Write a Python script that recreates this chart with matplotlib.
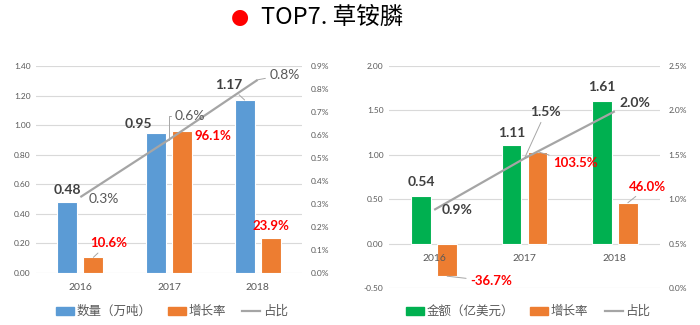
import numpy as np
import matplotlib.pyplot as plt
from matplotlib.patches import Patch
from matplotlib.lines import Line2D

plt.rcParams['font.family'] = ['Lato', 'Noto Sans CJK SC', 'DejaVu Sans']

years = ["2016", "2017", "2018"]

# 数量（万吨）/ 增长率 / 占比
qty = [0.48, 0.95, 1.17]
qty_growth = [0.106, 0.961, 0.239]
qty_share = [0.0033, 0.0058, 0.0084]

# 金额（亿美元）/ 增长率 / 占比
amt = [0.54, 1.11, 1.61]
amt_growth = [-0.367, 1.035, 0.460]
amt_share = [0.0088, 0.0146, 0.0199]

BLUE = "#5b9bd5"
GREEN = "#00b050"
ORANGE = "#ed7d31"
LINE = "#a5a5a5"
DARK = "#404040"
TICK = "#595959"
LEAD = "#a6a6a6"

x = np.arange(len(years))

fig = plt.figure(figsize=(7, 3.25), dpi=100)


def panel(rect, values, growth, share, color, width, off, ylim, yticks, slim, sticks):
    ax = fig.add_axes(rect)
    ax.bar(x - off, values, width, color=color, edgecolor="white", lw=0.8, zorder=2)
    ax.bar(x + off, growth, width, color=ORANGE, edgecolor="white", lw=0.8, zorder=2)
    ax.set_xlim(-0.5, 2.5)
    ax.set_ylim(*ylim)
    ax.set_yticks(yticks)
    ax.yaxis.set_major_formatter(lambda v, p: f"{v:.2f}")
    ax.grid(axis="y", color="#d9d9d9", lw=0.8)
    ax.set_axisbelow(True)
    for s in ax.spines.values():
        s.set_visible(False)
    ax.set_xticks([])
    ax.tick_params(axis="y", length=0, labelsize=6, labelcolor=TICK, pad=4)

    tw = ax.twinx()
    tw.plot(x, share, color=LINE, lw=1.6, solid_capstyle="butt")
    tw.set_ylim(*slim)
    tw.set_yticks(sticks)
    tw.yaxis.set_major_formatter(lambda v, p: f"{v * 100:.1f}%")
    for s in tw.spines.values():
        s.set_visible(False)
    tw.tick_params(axis="y", length=0, labelsize=6, labelcolor=TICK, pad=6)

    # year labels sit just under the zero line, above the bars
    for i, yr in enumerate(years):
        tw.annotate(yr, xy=(x[i], 0), xycoords=ax.transData, xytext=(0, -15),
                    textcoords="offset pixels", ha="center", va="center",
                    fontsize=7.5, color=TICK, zorder=5)
    return ax, tw


def note(tw, xy, coords, text, off, color, size, bold=True, leader=None):
    kw = {}
    if leader is not None:
        kw["arrowprops"] = dict(arrowstyle="-", color=LEAD, lw=0.7, shrinkA=1,
                                shrinkB=0, connectionstyle=leader)
    tw.annotate(text, xy=xy, xycoords=coords, xytext=off, textcoords="offset pixels",
                ha="center", va="center", color=color, fontsize=size,
                fontweight="bold" if bold else "normal", zorder=5, **kw)


# left: quantity
ax1, tw1 = panel([36 / 700, 52 / 325, 266 / 700, 207 / 325], qty, qty_growth, qty_share,
                 BLUE, 0.225, 0.147, (0, 1.4), np.arange(0, 1.41, 0.2),
                 (0, 0.009), np.arange(0, 0.0091, 0.001))

qty_off = [(0, 12), (-18, 9), (-16, 15)]
qty_lead = [None, None, "arc3"]
for i, v in enumerate(qty):
    note(tw1, (x[i] - 0.147, v), ax1.transData, f"{v:.2f}", qty_off[i], DARK, 10,
         leader=qty_lead[i])

qg_off = [(15, 14), (31, -5), (0, 12)]
qg_lead = ["arc3", None, None]
for i, v in enumerate(qty_growth):
    note(tw1, (x[i] + 0.147, v), ax1.transData, f"{v * 100:.1f}%", qg_off[i], "#ff0000", 9.5,
         leader=qg_lead[i])

qs_off = [(23, -2), (21, 24), (27, 5)]
qs_lead = [None, "angle,angleA=0,angleB=90,rad=0", "arc3"]
for i, v in enumerate(qty_share):
    note(tw1, (x[i], v), tw1.transData, f"{v * 100:.1f}%", qs_off[i], TICK, 10,
         bold=False, leader=qs_lead[i])

# right: value
ax2, tw2 = panel([389 / 700, 37 / 325, 271 / 700, 222 / 325], amt, amt_growth, amt_share,
                 GREEN, 0.22, 0.144, (-0.5, 2.0), np.arange(-0.5, 2.01, 0.5),
                 (0, 0.025), np.arange(0, 0.0251, 0.005))

amt_off = [(0, 14), (0, 12), (0, 14)]
for i, v in enumerate(amt):
    note(tw2, (x[i] - 0.144, v), ax2.transData, f"{v:.2f}", amt_off[i], DARK, 10)

ag_off = [(44, -5), (38, -11), (20, 16)]
for i, v in enumerate(amt_growth):
    note(tw2, (x[i] + 0.144, v), ax2.transData, f"{v * 100:.1f}%", ag_off[i], "#ff0000", 9.5,
         leader="arc3")

as_off = [(23, 0), (21, 46), (20, 8)]
as_lead = [None, "arc3", None]
for i, v in enumerate(amt_share):
    note(tw2, (x[i], v), tw2.transData, f"{v * 100:.1f}%", as_off[i], DARK, 10,
         leader=as_lead[i])

# legends
leg_kw = dict(loc="center", ncol=3, frameon=False, fontsize=9, handlelength=1.45,
              handleheight=0.6, handletextpad=0.2, columnspacing=1.3, labelcolor=TICK)
fig.legend([Patch(color=BLUE), Patch(color=ORANGE), Line2D([], [], color=LINE, lw=1.6)],
           ["数量（万吨）", "增长率", "占比"], bbox_to_anchor=(172 / 700, 14 / 325), **leg_kw)
fig.legend([Patch(color=GREEN), Patch(color=ORANGE), Line2D([], [], color=LINE, lw=1.6)],
           ["金额（亿美元）", "增长率", "占比"], bbox_to_anchor=(528 / 700, 14 / 325), **leg_kw)

# title
fig.text(240 / 700, 1 - 17 / 325, "●", color="#ff0000", fontsize=15, ha="center",
         va="center", family="DejaVu Sans")
fig.text(261 / 700, 1 - 17 / 325, "TOP7. 草铵膦", color="black", fontsize=17,
         ha="left", va="center", family=["Noto Sans CJK SC"])

fig.savefig("out.png", dpi=100)
